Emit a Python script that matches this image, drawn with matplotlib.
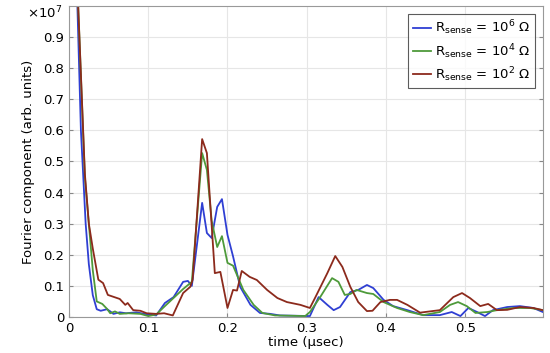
import numpy as np
import matplotlib
matplotlib.use("Agg")
from matplotlib import pyplot as plt
from matplotlib.ticker import FuncFormatter, MultipleLocator

# amplitudes, in units of 1e7
t_hi = [0.0, 0.01, 0.015, 0.021, 0.025, 0.03, 0.035, 0.04, 0.048, 0.052, 0.056, 0.064, 0.072,
        0.085, 0.095, 0.11, 0.121, 0.132, 0.144, 0.150, 0.155, 0.168, 0.174, 0.180, 0.187,
        0.193, 0.200, 0.207, 0.216, 0.229, 0.241, 0.254, 0.266, 0.285, 0.304, 0.315, 0.326,
        0.334, 0.342, 0.355, 0.365, 0.376, 0.384, 0.397, 0.409, 0.427, 0.447, 0.468, 0.483,
        0.494, 0.504, 0.515, 0.525, 0.535, 0.553, 0.569, 0.586, 0.598]
a_hi = [3.0, 1.05, 0.6, 0.3, 0.17, 0.07, 0.025, 0.02, 0.025, 0.018, 0.01, 0.015, 0.012,
        0.015, 0.01, 0.005, 0.045, 0.064, 0.113, 0.116, 0.10, 0.367, 0.27, 0.254, 0.354,
        0.379, 0.264, 0.195, 0.097, 0.039, 0.013, 0.01, 0.005, 0.004, 0.003, 0.064, 0.039,
        0.022, 0.032, 0.08, 0.087, 0.103, 0.093, 0.055, 0.035, 0.022, 0.006, 0.006, 0.016,
        0.003, 0.029, 0.016, 0.003, 0.022, 0.032, 0.035, 0.029, 0.016]

t_mid = [0.0, 0.01, 0.02, 0.025, 0.03, 0.035, 0.042, 0.048, 0.052, 0.058, 0.064, 0.075, 0.09,
         0.1, 0.11, 0.121, 0.144, 0.155, 0.168, 0.174, 0.180, 0.187, 0.193, 0.200, 0.207,
         0.213, 0.220, 0.233, 0.244, 0.26, 0.28, 0.298, 0.304, 0.317, 0.332, 0.340, 0.348,
         0.355, 0.363, 0.376, 0.384, 0.397, 0.414, 0.430, 0.447, 0.468, 0.481, 0.491, 0.502,
         0.513, 0.528, 0.540, 0.561, 0.582, 0.598]
a_mid = [3.0, 1.1, 0.45, 0.3, 0.15, 0.05, 0.042, 0.026, 0.012, 0.018, 0.01, 0.012, 0.01,
         0.003, 0.008, 0.035, 0.09, 0.113, 0.527, 0.473, 0.31, 0.225, 0.26, 0.174, 0.165,
         0.129, 0.087, 0.039, 0.013, 0.005, 0.004, 0.003, 0.016, 0.064, 0.125, 0.113, 0.071,
         0.074, 0.087, 0.077, 0.074, 0.048, 0.029, 0.016, 0.006, 0.016, 0.039, 0.048, 0.035,
         0.013, 0.016, 0.022, 0.029, 0.029, 0.022]

t_lo = [0.0, 0.01, 0.02, 0.025, 0.03, 0.037, 0.043, 0.049, 0.064, 0.071, 0.074, 0.081, 0.09,
        0.098, 0.11, 0.12, 0.131, 0.144, 0.153, 0.156, 0.168, 0.174, 0.184, 0.191, 0.200,
        0.207, 0.212, 0.218, 0.228, 0.237, 0.250, 0.263, 0.275, 0.292, 0.304, 0.311, 0.326,
        0.336, 0.345, 0.355, 0.365, 0.376, 0.383, 0.393, 0.405, 0.414, 0.427, 0.443, 0.468,
        0.485, 0.496, 0.506, 0.519, 0.529, 0.540, 0.553, 0.569, 0.586, 0.598]
a_lo = [3.0, 1.1, 0.46, 0.3, 0.22, 0.12, 0.109, 0.071, 0.058, 0.039, 0.045, 0.022, 0.02,
        0.012, 0.01, 0.012, 0.005, 0.077, 0.097, 0.12, 0.572, 0.527, 0.141, 0.145, 0.029,
        0.087, 0.085, 0.148, 0.129, 0.119, 0.087, 0.061, 0.048, 0.039, 0.029, 0.064, 0.141,
        0.196, 0.161, 0.097, 0.048, 0.019, 0.02, 0.048, 0.055, 0.055, 0.039, 0.014, 0.022,
        0.064, 0.077, 0.061, 0.035, 0.042, 0.022, 0.023, 0.032, 0.029, 0.022]

series = [
    (t_hi, a_hi, "#2f3fd3", r"R$_{\mathrm{sense}}$ = 10$^6$ $\Omega$"),
    (t_mid, a_mid, "#4e9a3a", r"R$_{\mathrm{sense}}$ = 10$^4$ $\Omega$"),
    (t_lo, a_lo, "#8c2a1c", r"R$_{\mathrm{sense}}$ = 10$^2$ $\Omega$"),
]

plt.rcParams["font.family"] = "DejaVu Sans"
plt.rcParams["mathtext.fontset"] = "dejavusans"

fig = plt.figure(figsize=(5.5, 3.53), dpi=100)
ax = fig.add_axes([0.1255, 0.102, 0.8615, 0.881])

for t, a, c, lab in series:
    ax.plot(t, np.array(a) * 1e7, color=c, lw=1.3, label=lab)

ax.set_xlim(0, 0.598)
ax.set_ylim(0, 1.0e7)
ax.xaxis.set_major_locator(MultipleLocator(0.1))
ax.set_yticks(np.arange(0, 10) * 1e6)
ax.yaxis.set_major_formatter(FuncFormatter(lambda v, p: "0" if v == 0 else "%.1f" % (v / 1e7)))
ax.xaxis.set_major_formatter(FuncFormatter(lambda v, p: "0" if v == 0 else "%.1f" % v))
ax.grid(True, color="#e6e6e6", lw=0.8)
ax.set_axisbelow(True)
ax.tick_params(direction="in", length=3, labelsize=9.5, color="#888888",
               top=False, right=True)
for s in ax.spines.values():
    s.set_color("#999999")
    s.set_linewidth(0.8)

fig.text(0.113, 0.962, r"$\times$10$^7$", fontsize=9.5, ha="right", va="center")
ax.set_xlabel("time (µsec)", fontsize=9.5, labelpad=1)
ax.set_ylabel("Fourier component (arb. units)", fontsize=9.5, labelpad=6)

leg = ax.legend(loc="upper right", fontsize=9.5, frameon=True, fancybox=False,
                handlelength=1.4, handletextpad=0.3, borderpad=0.35,
                labelspacing=0.35, borderaxespad=0.6)
leg.get_frame().set_edgecolor("#333333")
leg.get_frame().set_linewidth(0.8)

fig.savefig("out.png", dpi=100)
